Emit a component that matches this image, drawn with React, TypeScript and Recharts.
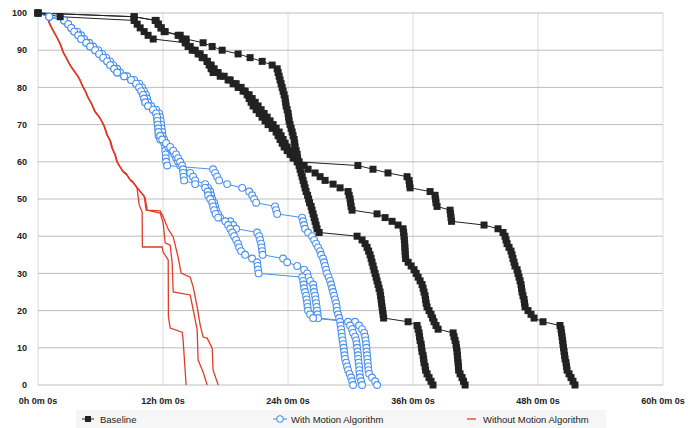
import { CartesianGrid, Line, LineChart, XAxis, YAxis } from "recharts";

const xTicks = [0, 12, 24, 36, 48, 60];
const yTicks = [0, 10, 20, 30, 40, 50, 60, 70, 80, 90, 100];

// hours at which the share still running drops to 100%, 99%, 98% ... 0%
const baselineRunA = [
  0, 2.13, 9.23, 9.52, 9.81, 10.19, 10.57, 11.06, 14.13, 14.61,
  15.09, 15.57, 15.95, 16.24, 16.43, 16.62, 16.81, 17.49, 18.25, 18.73,
  19.21, 19.69, 20.08, 20.27, 20.46, 20.65, 20.94, 21.23, 21.51, 21.8,
  22.09, 22.48, 22.86, 23.05, 23.24, 23.44, 23.63, 23.92, 24.2, 24.49,
  24.88, 30.71, 32.16, 33.6, 35.43, 35.62, 35.67, 35.72, 37.64, 38.12,
  38.17, 38.21, 38.31, 39.56, 39.61, 39.65, 39.7, 42.82, 44.16, 44.64,
  44.83, 44.93, 45.03, 45.22, 45.41, 45.51, 45.6, 45.7, 45.79, 45.99,
  46.08, 46.18, 46.28, 46.37, 46.42, 46.47, 46.56, 46.66, 46.71, 46.76,
  47.04, 47.33, 47.62, 48.48, 50.11, 50.21, 50.26, 50.31, 50.36, 50.4,
  50.45, 50.5, 50.55, 50.6, 50.69, 50.74, 50.79, 50.98, 51.17, 51.36,
  51.55,
];
const baselineRunB = [
  0, 9.23, 11.34, 11.54, 11.82, 12.11, 13.45, 13.84, 14.22, 14.41,
  14.8, 15.37, 15.76, 16.24, 16.62, 16.91, 17.29, 17.87, 18.45, 19.02,
  19.5, 19.89, 20.27, 20.56, 20.85, 21.13, 21.42, 21.71, 22.0, 22.28,
  22.57, 22.86, 23.15, 23.34, 23.53, 23.72, 23.92, 24.2, 24.49, 24.78,
  25.07, 25.55, 25.93, 26.6, 27.08, 27.56, 28.33, 29.0, 29.77, 29.87,
  29.96, 30.01, 30.06, 30.15, 32.55, 33.32, 33.99, 34.57, 35.05, 35.1,
  35.14, 35.17, 35.2, 35.22, 35.24, 35.26, 35.29, 35.53, 35.82, 36.1,
  36.3, 36.49, 36.68, 36.87, 36.97, 37.06, 37.16, 37.21, 37.26, 37.35,
  37.54, 37.73, 37.88, 38.02, 38.21, 38.41, 39.85, 39.94, 40.04, 40.13,
  40.18, 40.23, 40.26, 40.29, 40.33, 40.36, 40.38, 40.52, 40.71, 40.85,
  41.0,
];
const baselineRunC = [
  0, 9.23, 11.25, 11.54, 11.82, 12.21, 13.65, 14.22, 15.85, 16.72,
  17.68, 19.21, 20.36, 21.52, 22.48, 22.96, 23.05, 23.15, 23.24, 23.34,
  23.44, 23.53, 23.63, 23.72, 23.77, 23.82, 23.92, 24.01, 24.06, 24.11,
  24.2, 24.3, 24.4, 24.49, 24.59, 24.64, 24.68, 24.78, 24.88, 24.92,
  24.97, 25.07, 25.16, 25.26, 25.36, 25.45, 25.55, 25.64, 25.74, 25.88,
  25.98, 26.07, 26.22, 26.31, 26.41, 26.51, 26.6, 26.7, 26.79, 26.99,
  30.63, 31.11, 31.4, 31.59, 31.74, 31.88, 31.98, 32.07, 32.17, 32.26,
  32.36, 32.46, 32.55, 32.65, 32.74, 32.84, 32.89, 32.94, 32.98, 33.03,
  33.08, 33.13, 33.18, 35.53, 36.39, 36.49, 36.58, 36.63, 36.68, 36.78,
  36.82, 36.87, 36.97, 37.02, 37.06, 37.16, 37.21, 37.35, 37.54, 37.73,
  37.92,
];

const motionRunA = [
  0, 1.07, 2.51, 2.9, 3.19, 3.47, 3.86, 4.14, 4.63, 5.01,
  5.49, 5.87, 6.26, 6.64, 6.93, 7.31, 7.6, 8.27, 8.94, 9.42,
  9.71, 9.9, 10.09, 10.19, 10.29, 10.57, 11.05, 11.34, 11.44, 11.46,
  11.49, 11.54, 11.56, 11.58, 11.73, 12.11, 12.21, 12.22, 12.26, 12.27,
  12.3, 12.4, 16.81, 17.01, 17.2, 17.39, 18.16, 19.6, 20.27, 20.56,
  20.75, 20.94, 22.76, 22.86, 22.96, 25.36, 25.45, 25.55, 25.64, 25.93,
  26.31, 26.51, 26.7, 26.89, 27.08, 27.18, 27.37, 27.47, 27.56, 27.66,
  27.75, 27.9, 28.04, 28.14, 28.23, 28.33, 28.43, 28.52, 28.62, 28.67,
  28.71, 28.81, 28.91, 29.0, 29.05, 29.1, 29.15, 29.19, 29.24, 29.29,
  29.34, 29.39, 29.43, 29.48, 29.58, 29.67, 29.77, 29.91, 30.06, 30.15,
  30.25,
];
const motionRunB = [
  0, 1.07, 2.51, 2.9, 3.19, 3.76, 4.14, 4.43, 4.91, 5.3,
  5.78, 6.16, 6.54, 6.93, 7.22, 7.6, 7.89, 8.56, 9.23, 9.71,
  10.0, 10.19, 10.38, 10.48, 10.57, 10.86, 11.34, 11.63, 11.73, 11.78,
  11.82, 11.87, 11.92, 11.96, 12.11, 12.3, 12.5, 12.88, 13.07, 13.26,
  13.45, 13.65, 13.93, 14.61, 14.89, 15.09, 16.05, 16.33, 16.53, 16.62,
  16.72, 16.91, 17.01, 17.1, 17.29, 17.49, 18.45, 18.73, 19.02, 21.04,
  21.23, 21.32, 21.42, 21.47, 21.52, 21.56, 23.53, 23.92, 24.88, 25.55,
  25.84, 25.93, 26.12, 26.41, 26.46, 26.51, 26.6, 26.65, 26.7, 26.75,
  26.79, 26.84, 26.89, 30.44, 30.83, 31.11, 31.31, 31.4, 31.45, 31.5,
  31.53, 31.55, 31.59, 31.62, 31.65, 31.69, 31.72, 31.79, 32.07, 32.36,
  32.55,
];
const motionRunC = [
  0, 1.07, 2.51, 2.9, 3.19, 3.47, 3.86, 4.14, 4.63, 5.01,
  5.49, 5.87, 6.26, 6.64, 6.93, 7.31, 7.6, 8.27, 8.94, 9.42,
  9.71, 9.9, 10.09, 10.19, 10.29, 10.57, 11.05, 11.34, 11.44, 11.46,
  11.49, 11.54, 11.56, 11.73, 11.92, 12.3, 12.69, 12.98, 13.26, 13.45,
  13.65, 13.84, 13.93, 13.94, 13.98, 14.03, 15.09, 16.05, 16.29, 16.33,
  16.53, 16.72, 16.81, 16.91, 17.05, 17.29, 17.97, 18.25, 18.45, 18.64,
  18.83, 19.02, 19.21, 19.31, 19.5, 19.88, 20.56, 21.04, 21.08, 21.13,
  21.18, 25.36, 25.45, 25.5, 25.55, 25.64, 25.74, 25.79, 25.84, 25.88,
  25.93, 26.12, 26.41, 29.77, 29.96, 30.15, 30.25, 30.44, 30.54, 30.59,
  30.63, 30.68, 30.73, 30.74, 30.78, 30.83, 30.84, 30.88, 30.92, 31.02,
  31.11,
];

// [hours, percent] vertices of the unmarked runs
const noMotionRunA: [number, number][] = [
  [0, 100], [0.85, 99.4], [1.12, 97], [1.45, 95.3], [1.82, 93.4], [2.15, 91.6], [2.4, 89.6],
  [2.75, 87.8], [3.05, 86.1], [3.45, 84.5], [3.74, 83.4], [4.05, 81.9], [4.22, 80.7], [4.55, 79],
  [4.8, 77.3], [5.15, 75.6], [5.47, 73.5], [5.85, 72.2], [6.14, 70.8], [6.4, 69.3], [6.62, 67.3],
  [6.95, 65.6], [7.1, 63.8], [7.4, 62], [7.58, 60], [7.9, 58.6], [8.16, 57.4], [8.5, 56.7],
  [8.83, 55.2], [9.1, 54.6], [9.5, 53.1], [9.72, 48.4], [10.0, 46.5], [10.02, 37.1], [11.92, 37.1],
  [12.0, 35.8], [12.5, 33.6], [12.52, 18.3], [12.69, 15.3], [13.84, 14.2], [13.93, 12.1], [14.22, 0],
];
const noMotionRunB: [number, number][] = [
  [0, 100], [0.9, 99.2], [1.2, 96.6], [1.5, 95], [1.87, 93.2], [2.2, 91.3], [2.45, 89.3],
  [2.8, 87.5], [3.12, 85.8], [3.5, 84.2], [3.8, 83.1], [4.1, 81.6], [4.27, 80.4], [4.6, 78.7],
  [4.86, 77], [5.2, 75.3], [5.52, 73.2], [5.9, 71.9], [6.2, 70.5], [6.45, 69], [6.68, 67],
  [7.0, 65.3], [7.16, 63.5], [7.45, 61.7], [7.64, 59.7], [7.95, 58.3], [8.22, 57.1], [8.55, 56.4],
  [8.9, 54.9], [9.15, 54.3], [9.55, 52.9], [10.29, 50.3], [10.48, 47], [11.73, 46.2], [12.02, 43.5],
  [12.21, 38.2], [12.69, 37.6], [12.88, 32.8], [12.98, 25], [14.61, 24.2], [14.9, 20.2],
  [15.28, 14.8], [15.37, 6.7], [15.85, 3.5], [16.24, 0],
];
const noMotionRunC: [number, number][] = [
  [0, 100], [0.8, 99.6], [1.1, 97.2], [1.42, 95.5], [1.78, 93.6], [2.1, 91.8], [2.36, 89.8],
  [2.7, 88], [3.0, 86.3], [3.4, 84.7], [3.7, 83.6], [4.0, 82.1], [4.18, 80.9], [4.5, 79.2],
  [4.76, 77.5], [5.1, 75.8], [5.43, 73.7], [5.8, 72.4], [6.1, 71], [6.35, 69.5], [6.58, 67.5],
  [6.9, 65.8], [7.06, 64], [7.35, 62.2], [7.54, 60.2], [7.85, 58.8], [8.12, 57.6], [8.45, 56.9],
  [8.78, 55.4], [9.05, 54.8], [9.45, 53.3], [10.19, 50.8], [10.38, 47], [11.73, 46.8], [12.02, 45.2],
  [12.5, 41.9], [12.98, 39.8], [13.45, 34.4], [13.74, 30.1], [14.61, 29], [14.9, 26.3],
  [15.28, 21], [15.57, 16.1], [15.85, 12.9], [16.24, 12.6], [16.72, 9.9], [16.81, 4], [17.3, 0],
];

const BLACK = "#222222";
const BLUE = "#4a90ee";
const RED = "#e03c28";
const FONT = '"Liberation Sans", Arial, sans-serif';

const fromTimes = (hours: number[]) => hours.map((h, i) => ({ h, pct: 100 - i }));
const fromPairs = (pairs: [number, number][]) => pairs.map(([h, pct]) => ({ h, pct }));

function squareDot(p: any) {
  if (p.cx == null || p.cy == null) return <g key={`s-${p.index}`} />;
  return <rect key={`s-${p.index}`} x={p.cx - 3.5} y={p.cy - 3.5} width={7} height={7} fill={BLACK} />;
}

function circleDot(p: any) {
  if (p.cx == null || p.cy == null) return <g key={`c-${p.index}`} />;
  return <circle key={`c-${p.index}`} cx={p.cx} cy={p.cy} r={3.4} fill="#fff" stroke={BLUE} strokeWidth={1.1} />;
}

function LegendBar() {
  return (
    <svg width={696} height={30} style={{ position: "absolute", left: 0, top: 400 }}>
      <rect x={76} y={10} width={530} height={18} fill="#f6f6f6" />
      <line x1={82} x2={94} y1={19} y2={19} stroke={BLACK} strokeWidth={1} />
      <rect x={85} y={16} width={6} height={6} fill={BLACK} />
      <text x={100} y={22.5} fontSize={9.5} fontFamily={FONT} fill="#222">Baseline</text>
      <line x1={273} x2={287} y1={19} y2={19} stroke={BLUE} strokeWidth={1} />
      <circle cx={280} cy={19} r={3.2} fill="#fff" stroke={BLUE} strokeWidth={1.1} />
      <text x={291} y={22.5} fontSize={9.5} fontFamily={FONT} fill="#222">With Motion Algorithm</text>
      <line x1={467} x2={476} y1={19} y2={19} stroke={RED} strokeWidth={1.3} />
      <text x={483} y={22.5} fontSize={9.5} fontFamily={FONT} fill="#222">Without Motion Algorithm</text>
    </svg>
  );
}

export default function App() {
  const tick = { fontSize: 9, fontWeight: 700, fontFamily: FONT, fill: "#222" };
  const baseline = [baselineRunA, baselineRunB, baselineRunC];
  const motion = [motionRunA, motionRunB, motionRunC];
  const noMotion = [noMotionRunA, noMotionRunB, noMotionRunC];

  return (
    <div style={{ position: "absolute", left: 0, top: 0, width: 696, height: 428, background: "#fff" }}>
      <LineChart width={696} height={428} margin={{ top: 13, right: 33, bottom: 0, left: 0 }}>
        <CartesianGrid horizontal={false} stroke="#dcdcdc" strokeWidth={1} />
        <CartesianGrid vertical={false} stroke="#bdbdbd" strokeWidth={1} />
        <XAxis
          type="number"
          dataKey="h"
          domain={[0, 60]}
          ticks={xTicks}
          interval={0}
          tickFormatter={(h: number) => `${h}h 0m 0s`}
          axisLine={false}
          tickLine={false}
          tickSize={6}
          tickMargin={7}
          height={43}
          tick={tick}
        />
        <YAxis
          type="number"
          dataKey="pct"
          domain={[0, 100]}
          ticks={yTicks}
          interval={0}
          axisLine={false}
          tickLine={false}
          tickSize={6}
          tickMargin={5}
          width={38}
          tick={tick}
        />
        {noMotion.map((run, i) => (
          <Line
            key={`r${i}`}
            data={fromPairs(run)}
            dataKey="pct"
            type="linear"
            stroke={RED}
            strokeWidth={1.3}
            dot={false}
            activeDot={false}
            isAnimationActive={false}
          />
        ))}
        {motion.map((run, i) => (
          <Line
            key={`m${i}`}
            data={fromTimes(run)}
            dataKey="pct"
            type="linear"
            stroke={BLUE}
            strokeWidth={1}
            dot={circleDot}
            activeDot={false}
            isAnimationActive={false}
          />
        ))}
        {baseline.map((run, i) => (
          <Line
            key={`b${i}`}
            data={fromTimes(run)}
            dataKey="pct"
            type="linear"
            stroke={BLACK}
            strokeWidth={1}
            dot={squareDot}
            activeDot={false}
            isAnimationActive={false}
          />
        ))}
      </LineChart>
      <LegendBar />
    </div>
  );
}
